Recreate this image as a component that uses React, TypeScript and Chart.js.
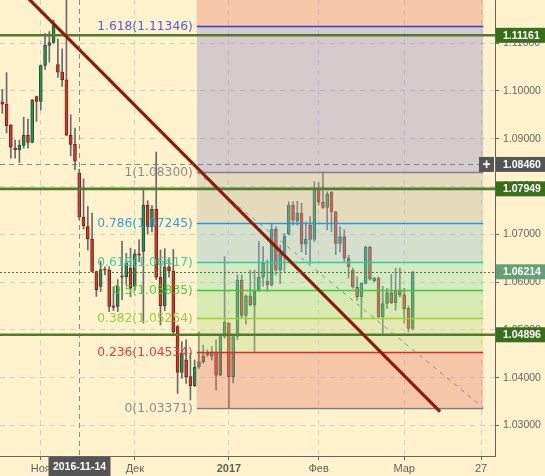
import React, { useEffect, useRef } from "react";
import { Chart, registerables } from "chart.js";

Chart.register(...registerables);

// Daily candles, index 0 = 2016-10-19 ... index 96 = 2017-03-08
const opens = [
  1.0977, 1.0972, 1.0928, 1.088, 1.0877, 1.0886, 1.0907, 1.0892, 1.0988, 1.0978,
  1.1053, 1.1095, 1.1101, 1.1055, 1.1039, 1.1023, 1.0907, 1.0888, 1.0828, 1.0736,
  1.0716, 1.069, 1.0622, 1.0591, 1.0626, 1.0625, 1.055, 1.0549, 1.061, 1.0611,
  1.0629, 1.0591, 1.0659, 1.0664, 1.0761, 1.0716, 1.0752, 1.061, 1.055, 1.0632,
  1.0623, 1.0507, 1.0411, 1.0437, 1.0402, 1.0383, 1.0423, 1.0433, 1.0449, 1.0445,
  1.0454, 1.0405, 1.0486, 1.0514, 1.0402, 1.0486, 1.0604, 1.053, 1.0571, 1.0552,
  1.0581, 1.061, 1.0602, 1.0594, 1.071, 1.0625, 1.066, 1.07, 1.0761, 1.0728,
  1.0744, 1.0679, 1.0719, 1.0689, 1.0796, 1.0767, 1.0756, 1.0788, 1.0747, 1.0681,
  1.0695, 1.065, 1.0625, 1.0589, 1.0569, 1.0597, 1.0673, 1.0603, 1.0608, 1.0527,
  1.0555, 1.0578, 1.0557, 1.0583, 1.0573, 1.0545, 1.0503,
];
const highs = [
  1.1003, 1.1038, 1.093, 1.0897, 1.0897, 1.0945, 1.0941, 1.0982, 1.0989, 1.1054,
  1.112, 1.1124, 1.1148, 1.1108, 1.1088, 1.13, 1.095, 1.0922, 1.0836, 1.0816,
  1.0758, 1.0744, 1.0623, 1.0643, 1.0632, 1.0632, 1.059, 1.0605, 1.0685, 1.066,
  1.0671, 1.0668, 1.0688, 1.0796, 1.077, 1.076, 1.0872, 1.0667, 1.067, 1.065,
  1.0668, 1.051, 1.0475, 1.0479, 1.0451, 1.0437, 1.0496, 1.0468, 1.0458, 1.0465,
  1.0479, 1.0487, 1.0653, 1.0515, 1.0487, 1.0615, 1.0615, 1.0573, 1.0625, 1.0625,
  1.0685, 1.0674, 1.0646, 1.0723, 1.0716, 1.0677, 1.0702, 1.0768, 1.0768, 1.0769,
  1.0765, 1.0726, 1.0737, 1.081, 1.0808, 1.083, 1.0789, 1.0789, 1.0748, 1.0716,
  1.0709, 1.0656, 1.0629, 1.0611, 1.0598, 1.0675, 1.0675, 1.061, 1.0611, 1.0591,
  1.0587, 1.0616, 1.0629, 1.0629, 1.0587, 1.055, 1.0622,
];
const lows = [
  1.0953, 1.0912, 1.0859, 1.0859, 1.085, 1.088, 1.088, 1.0891, 1.0936, 1.096,
  1.1044, 1.106, 1.1099, 1.1028, 1.1009, 1.0906, 1.0864, 1.0835, 1.073, 1.0711,
  1.0667, 1.0621, 1.057, 1.058, 1.0615, 1.0538, 1.054, 1.0538, 1.0563, 1.0595,
  1.0569, 1.0583, 1.0642, 1.0514, 1.07, 1.0705, 1.0605, 1.051, 1.054, 1.061,
  1.049, 1.0367, 1.0399, 1.0388, 1.0353, 1.0381, 1.0419, 1.043, 1.0444, 1.0437,
  1.0374, 1.0404, 1.0482, 1.0337, 1.0389, 1.0479, 1.0524, 1.0512, 1.055, 1.0454,
  1.058, 1.0591, 1.058, 1.0591, 1.0615, 1.0597, 1.0622, 1.0698, 1.0719, 1.0719,
  1.0663, 1.0657, 1.0639, 1.0684, 1.0761, 1.0754, 1.0709, 1.0705, 1.0657, 1.0663,
  1.0643, 1.0608, 1.0587, 1.0562, 1.0522, 1.0596, 1.0604, 1.06, 1.0526, 1.0493,
  1.0545, 1.0555, 1.0541, 1.0569, 1.0514, 1.0496, 1.05,
];
const closes = [
  1.0972, 1.0927, 1.0882, 1.0877, 1.0886, 1.0907, 1.0892, 1.0981, 1.0978, 1.1053,
  1.1095, 1.1101, 1.1137, 1.1039, 1.1023, 1.0907, 1.0888, 1.0853, 1.0736, 1.0718,
  1.069, 1.0622, 1.0584, 1.0626, 1.0625, 1.0549, 1.0547, 1.0591, 1.0613, 1.064,
  1.0587, 1.0659, 1.0656, 1.0761, 1.0716, 1.0752, 1.061, 1.055, 1.0632, 1.0623,
  1.0496, 1.0411, 1.0451, 1.0402, 1.0383, 1.0422, 1.0433, 1.0445, 1.0448, 1.0454,
  1.0405, 1.0486, 1.0516, 1.0402, 1.0486, 1.0604, 1.053, 1.0571, 1.0552, 1.0581,
  1.061, 1.0639, 1.0594, 1.071, 1.0625, 1.066, 1.0696, 1.0761, 1.073, 1.0744,
  1.0679, 1.069, 1.0689, 1.0796, 1.0767, 1.0756, 1.0784, 1.0747, 1.0681, 1.0695,
  1.065, 1.0632, 1.0589, 1.0569, 1.0597, 1.0673, 1.0606, 1.0608, 1.0527, 1.0555,
  1.0578, 1.0557, 1.0583, 1.0573, 1.0544, 1.0503, 1.06214,
];

const xTickPos = [9, 31, 53, 74, 94, 112];
const xTickLabels = ["Ноя", "Дек", "2017", "Фев", "Мар", "27"];
const yTicks = [1.03, 1.04, 1.05, 1.06, 1.07, 1.08, 1.09, 1.1, 1.11];

const fibRatios = [1.618, 1, 0.786, 0.618, 0.5, 0.382, 0.236, 0];
const fibValues = [1.11346, 1.083, 1.07245, 1.06417, 1.05835, 1.05254, 1.04534, 1.03371];
const fibStartX = 45.5;
const fibEndX = 112.5;

const trendLine = [
  { x: 4, y: 1.1212 },
  { x: 102.4, y: 1.0329 },
];
const fibDiagonal = [
  { x: 45.5, y: 1.083 },
  { x: 112.5, y: 1.03371 },
];

const levelValues = [1.11161, 1.07949, 1.04896];
const crossX = 18;
const crossDateLabel = "2016-11-14";
const crossY = 1.0846;
const lastPrice = 1.06214;

// styles
const CREAM = "#fff2cc";
const fibLineColors = [
  "rgb(55,55,220)", "rgb(125,125,150)", "rgb(40,150,220)", "rgb(40,210,150)",
  "rgb(60,200,60)", "rgb(150,210,50)", "rgb(220,40,40)", "rgb(125,125,125)",
];
const fibTextColors = [
  "rgb(90,90,220)", "rgb(140,140,140)", "rgb(50,160,220)", "rgb(60,210,160)",
  "rgb(70,210,70)", "rgb(150,205,60)", "rgb(230,60,60)", "rgb(140,140,140)",
];
const zoneColors = [
  "rgba(230,135,116,0.4)", "rgba(150,143,206,0.4)", "rgba(188,186,166,0.4)",
  "rgba(150,198,204,0.4)", "rgba(150,223,178,0.4)", "rgba(155,223,141,0.4)",
  "rgba(192,223,141,0.4)", "rgba(230,135,116,0.4)",
];

const idx = opens.map((_, i) => i);

const overlayPlugin = {
  id: "fibOverlay",
  afterDatasetDraw(chart: any, args: any) {
    if (args.index !== 1) return;
    const { ctx, chartArea: ca, scales } = chart;
    const x = scales.x;
    const y = scales.y;
    ctx.save();
    ctx.beginPath();
    ctx.rect(ca.left, ca.top, ca.right - ca.left, ca.bottom - ca.top);
    ctx.clip();
    const xa = x.getPixelForValue(fibStartX);
    const xb = x.getPixelForValue(fibEndX);
    for (let i = 0; i < fibValues.length; i++) {
      const top = i === 0 ? ca.top : y.getPixelForValue(fibValues[i - 1]);
      const bot = y.getPixelForValue(fibValues[i]);
      ctx.fillStyle = zoneColors[i];
      ctx.fillRect(xa, top, xb - xa, bot - top);
    }
    ctx.font = '12.3px "DejaVu Sans"';
    ctx.textAlign = "right";
    ctx.textBaseline = "middle";
    for (let i = 0; i < fibValues.length; i++) {
      const py = Math.round(y.getPixelForValue(fibValues[i])) + 0.5;
      ctx.strokeStyle = fibLineColors[i];
      ctx.lineWidth = 1.3;
      ctx.beginPath();
      ctx.moveTo(xa, py);
      ctx.lineTo(xb, py);
      ctx.stroke();
      ctx.fillStyle = fibTextColors[i];
      ctx.fillText(`${fibRatios[i]}(${fibValues[i].toFixed(5)})`, xa - 4, py);
    }
    ctx.strokeStyle = "rgb(80,125,45)";
    ctx.lineWidth = 2.6;
    for (const v of levelValues) {
      const py = y.getPixelForValue(v);
      ctx.beginPath();
      ctx.moveTo(ca.left, py);
      ctx.lineTo(ca.right, py);
      ctx.stroke();
    }
    ctx.restore();
  },
  afterDraw(chart: any) {
    const { ctx, chartArea: ca, scales, width, height } = chart;
    const x = scales.x;
    const y = scales.y;
    ctx.save();
    ctx.strokeStyle = "rgba(110,110,110,0.8)";
    ctx.lineWidth = 1;
    ctx.setLineDash([5, 4]);
    const cx = Math.round(x.getPixelForValue(crossX)) + 0.5;
    const cy = Math.round(y.getPixelForValue(crossY)) + 0.5;
    ctx.beginPath();
    ctx.moveTo(cx, ca.top);
    ctx.lineTo(cx, ca.bottom);
    ctx.moveTo(ca.left, cy);
    ctx.lineTo(ca.right, cy);
    ctx.stroke();
    const lp = Math.round(y.getPixelForValue(lastPrice)) + 0.5;
    ctx.strokeStyle = "rgb(70,120,70)";
    ctx.setLineDash([2, 2]);
    ctx.beginPath();
    ctx.moveTo(ca.left, lp);
    ctx.lineTo(ca.right, lp);
    ctx.stroke();
    ctx.setLineDash([]);

    const box = (v: number, bg: string, label: string) => {
      const py = y.getPixelForValue(v);
      ctx.fillStyle = bg;
      ctx.fillRect(ca.right + 1, py - 7.5, width - ca.right - 1, 15);
      ctx.fillStyle = "#ffffff";
      ctx.font = 'bold 10.5px "Liberation Sans"';
      ctx.textAlign = "left";
      ctx.textBaseline = "middle";
      ctx.fillText(label, ca.right + 8, py + 0.5);
    };
    for (const v of levelValues) box(v, "rgb(56,110,28)", v.toFixed(5));
    box(lastPrice, "rgb(98,160,118)", lastPrice.toFixed(5));
    box(crossY, "rgb(85,85,85)", crossY.toFixed(5));
    const py = y.getPixelForValue(crossY);
    ctx.fillStyle = "rgb(85,85,85)";
    ctx.fillRect(ca.right - 16, py - 7.5, 15, 15);
    ctx.fillStyle = "#ffffff";
    ctx.font = 'bold 14px "Liberation Sans"';
    ctx.textAlign = "center";
    ctx.fillText("+", ca.right - 8.5, py + 0.5);
    ctx.fillStyle = "rgb(85,85,85)";
    ctx.fillRect(cx - 31, ca.bottom + 1, 62, height - ca.bottom - 1);
    ctx.fillStyle = "#ffffff";
    ctx.font = 'bold 10.5px "Liberation Sans"';
    ctx.textAlign = "center";
    ctx.fillText(crossDateLabel, cx, (ca.bottom + height) / 2 + 1);
    ctx.restore();
  },
};

const zeroPad = (s: any) => {
  s.paddingTop = 0;
  s.paddingBottom = 0;
  s.paddingLeft = 0;
  s.paddingRight = 0;
};

export default function App() {
  const ref = useRef<HTMLCanvasElement>(null);
  useEffect(() => {
    if (!ref.current) return;
    const up = (i: number) => closes[i] >= opens[i];
    const chart = new Chart(ref.current, {
      type: "bar",
      data: {
        datasets: [
          {
            type: "bar",
            label: "wick",
            data: idx.map((i) => ({ x: i, y: [lows[i], highs[i]] })) as any,
            backgroundColor: "rgb(105,105,110)",
            borderWidth: 0,
            barThickness: 1,
            grouped: false,
            order: 3,
          } as any,
          {
            type: "bar",
            label: "body",
            data: idx.map((i) => ({ x: i, y: [opens[i], closes[i]] })) as any,
            backgroundColor: idx.map((i) => (up(i) ? "rgb(52,140,92)" : "rgb(214,58,42)")),
            borderColor: idx.map((i) => (up(i) ? "rgb(30,80,52)" : "rgb(110,35,25)")),
            borderWidth: 1,
            borderSkipped: false,
            barThickness: 3,
            minBarLength: 1,
            grouped: false,
            order: 2,
          } as any,
          {
            type: "line",
            label: "trend",
            data: trendLine as any,
            borderColor: "rgb(140,28,12)",
            borderWidth: 3.2,
            pointRadius: 0,
            order: 1,
            clip: 0,
          } as any,
          {
            type: "line",
            label: "fibline",
            data: fibDiagonal as any,
            borderColor: "rgb(140,140,140)",
            borderWidth: 1,
            borderDash: [4, 5],
            pointRadius: 0,
            order: 1,
            clip: 0,
          } as any,
        ],
      },
      options: {
        animation: false,
        responsive: false,
        devicePixelRatio: 1,
        layout: { padding: 0 },
        plugins: { legend: { display: false }, tooltip: { enabled: false } },
        events: [],
        scales: {
          x: {
            type: "linear",
            min: -0.54,
            max: 115.25,
            offset: false,
            grid: {
              color: "rgba(170,170,200,0.5)",
              tickColor: "rgb(100,100,100)",
              tickLength: 4,
              offset: false,
            },
            border: { color: "rgb(100,100,100)", dash: [5, 5] },
            ticks: {
              autoSkip: false,
              maxRotation: 0,
              padding: 2,
              color: "rgb(95,95,95)",
              font: (c: any) => ({
                family: '"Liberation Sans"',
                size: 11,
                weight: c.tick && c.tick.value === 53 ? "bold" : "normal",
              }),
              callback: (v: any) => {
                const k = xTickPos.indexOf(Number(v));
                return k >= 0 ? xTickLabels[k] : "";
              },
            },
            afterBuildTicks: (s: any) => {
              s.ticks = xTickPos.map((v) => ({ value: v }));
            },
            afterFit: (s: any) => {
              s.height = 20;
              zeroPad(s);
            },
          } as any,
          y: {
            type: "linear",
            position: "right",
            min: 1.0236,
            max: 1.119,
            grid: {
              color: "rgba(170,170,200,0.5)",
              tickColor: "rgb(100,100,100)",
              tickLength: 4,
            },
            border: { color: "rgb(100,100,100)", dash: [5, 5] },
            ticks: {
              padding: 4,
              color: "rgb(100,100,100)",
              font: { family: '"Liberation Sans"', size: 10.5 },
              callback: (v: any) => Number(v).toFixed(5),
            },
            afterBuildTicks: (s: any) => {
              s.ticks = yTicks.map((v) => ({ value: v }));
            },
            afterFit: (s: any) => {
              s.width = 50;
              zeroPad(s);
            },
          } as any,
        },
      },
      plugins: [overlayPlugin],
    } as any);
    return () => chart.destroy();
  }, []);
  return (
    <div style={{ position: "fixed", left: 0, top: 0, width: 545, height: 476, background: CREAM }}>
      <canvas ref={ref} width={545} height={476} style={{ width: 545, height: 476, display: "block" }} />
    </div>
  );
}
